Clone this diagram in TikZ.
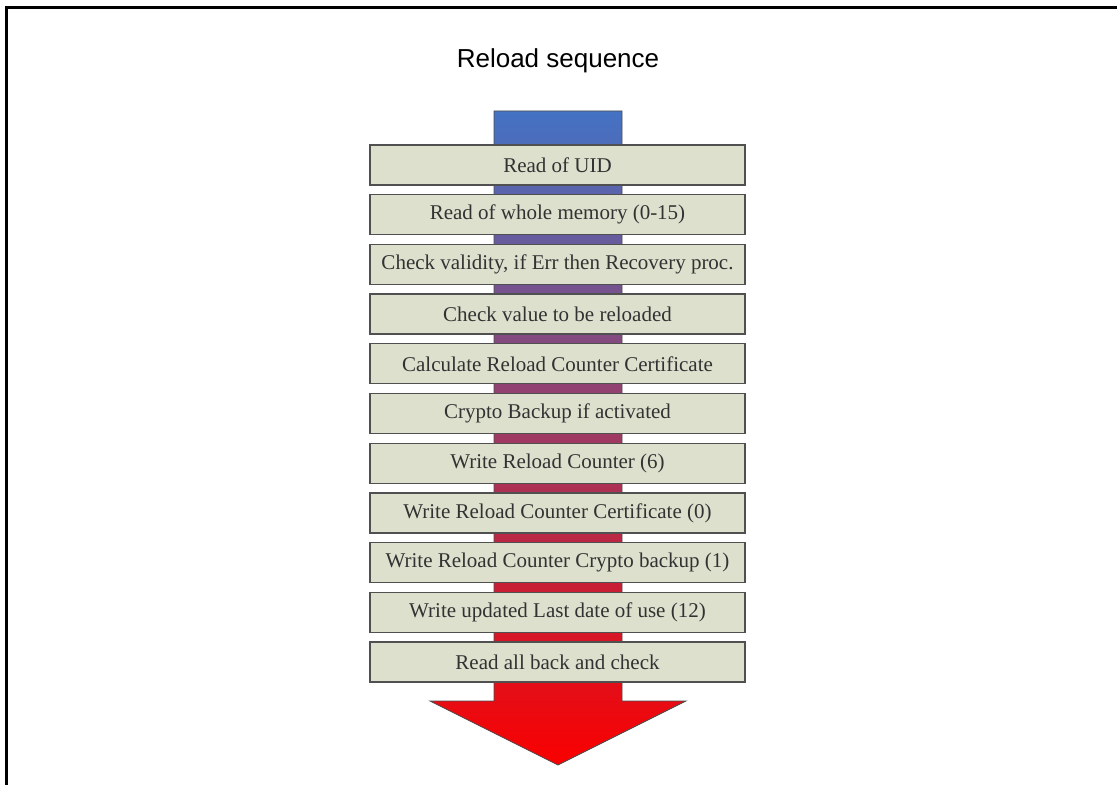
\documentclass[tikz,border=0pt]{standalone}
\usepackage{fontspec}
\setmainfont{Liberation Serif}
\newfontfamily\titlefont{Liberation Sans}
\definecolor{boxfill}{RGB}{222,224,206}
\definecolor{boxline}{RGB}{80,80,80}
\definecolor{boxtext}{RGB}{50,50,50}
\definecolor{shafttop}{RGB}{68,114,196}
\definecolor{shaftbottom}{RGB}{250,0,0}
\begin{document}
\begin{tikzpicture}[x=0.5pt,y=-0.5pt,
    stepbox/.style ={rectangle, draw=boxline, fill=boxfill, line width=0.6pt,
      minimum width=187.5pt, minimum height=20pt, inner sep=0pt,
      text=boxtext, font=\fontsize{10.5pt}{12pt}\selectfont},
    heading/.style ={inner sep=0pt, font=\titlefont\fontsize{13pt}{15pt}\selectfont}]
   \useasboundingbox (0,0) rectangle (1117,785);

   % frame
   \draw[line width=1.5pt] (6,785) -- (6,7.3) -- (1117,7.3);

   \node[heading] (title) at (558,60.5) {Reload sequence};

   % arrow behind the steps
   \draw[draw=black!70, line width=0.4pt, top color=shafttop, bottom color=shaftbottom]
     (494,111) -- (622,111) -- (622,701) -- (686,701) -- (558,765)
     -- (430,701) -- (494,701) -- cycle;

   \node[stepbox] (uid)      at (557.5,165)   {Read of UID};
   \node[stepbox] (memory)   at (557.5,214.7) {Read of whole memory (0-15)};
   \node[stepbox] (validity) at (557.5,264.4) {Check validity, if Err then Recovery proc.};
   \node[stepbox] (value)    at (557.5,314.1) {Check value to be reloaded};
   \node[stepbox] (calc)     at (557.5,363.8) {Calculate Reload Counter Certificate};
   \node[stepbox] (backup)   at (557.5,413.5) {Crypto Backup if activated};
   \node[stepbox] (counter)  at (557.5,463.2) {Write Reload Counter (6)};
   \node[stepbox] (cert)     at (557.5,512.9) {Write Reload Counter Certificate (0)};
   \node[stepbox] (crypto)   at (557.5,562.6) {Write Reload Counter Crypto backup (1)};
   \node[stepbox] (lastdate) at (557.5,612.3) {Write updated Last date of use (12)};
   \node[stepbox] (check)    at (557.5,662)   {Read all back and check};
 \end{tikzpicture}
\end{document}
